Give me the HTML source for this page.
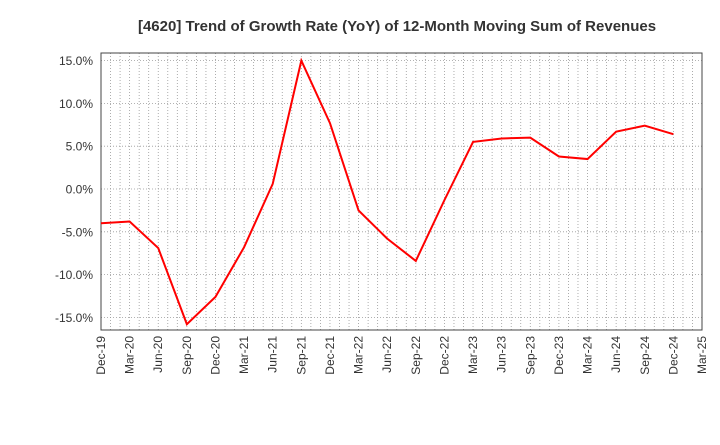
<!DOCTYPE html>
<html><head><meta charset="utf-8"><style>body{margin:0;background:#fff}svg text{font-family:"Liberation Sans",sans-serif}</style></head>
<body>
<svg id="c" width="720" height="440" xmlns="http://www.w3.org/2000/svg">
<text x="397" y="31" text-anchor="middle" font-size="15" font-weight="bold" fill="#333">[4620]  Trend of Growth Rate (YoY) of 12-Month Moving Sum of Revenues</text>
</svg>
<script>
const categories=["Dec-19","Mar-20","Jun-20","Sep-20","Dec-20","Mar-21","Jun-21","Sep-21","Dec-21","Mar-22","Jun-22","Sep-22","Dec-22","Mar-23","Jun-23","Sep-23","Dec-23","Mar-24","Jun-24","Sep-24","Dec-24","Mar-25"];
const values=[-4.0,-3.8,-6.9,-15.8,-12.6,-6.8,0.6,15.0,7.7,-2.5,-5.8,-8.4,-1.3,5.5,5.9,6.0,3.8,3.5,6.7,7.4,6.4];
const yTicks=[15,10,5,0,-5,-10,-15];
const svg=document.getElementById('c');const NS='http://www.w3.org/2000/svg';
const L=101,R=702,T=53,B=330;
const x=i=>L+(R-L)*i/(categories.length-1);
const y=v=>189-v*8.56;
function mk(t,a){const e=document.createElementNS(NS,t);for(const k in a)e.setAttribute(k,a[k]);svg.appendChild(e);return e;}
for(let m=1;m<(categories.length-1)*3;m++){const g=mk('line',{x1:L+(R-L)*m/((categories.length-1)*3),x2:L+(R-L)*m/((categories.length-1)*3),y1:T,y2:B,stroke:'#999','stroke-dasharray':'1,2','stroke-width':0.8});

}
yTicks.forEach(v=>{const g=mk('line',{x1:L,x2:R,y1:y(v),y2:y(v),stroke:'#999','stroke-dasharray':'1,2','stroke-width':0.8});


const t=mk('text',{x:L-8,y:y(v)+4.5,'text-anchor':'end','font-size':12,fill:'#333'});t.textContent=v.toFixed(1)+'%';

});
categories.forEach((c,i)=>{const t=mk('text',{transform:`translate(${x(i)+4},${B+6}) rotate(-90)`,'text-anchor':'end','font-size':12,fill:'#333'});t.textContent=c;

});
const f=mk('rect',{x:L,y:T,width:R-L,height:B-T,fill:'none',stroke:'#444','stroke-width':1});


const p=mk('polyline',{points:values.map((v,i)=>x(i)+','+y(v)).join(' '),fill:'none',stroke:'#f00','stroke-width':2});


</script>
</body></html>
